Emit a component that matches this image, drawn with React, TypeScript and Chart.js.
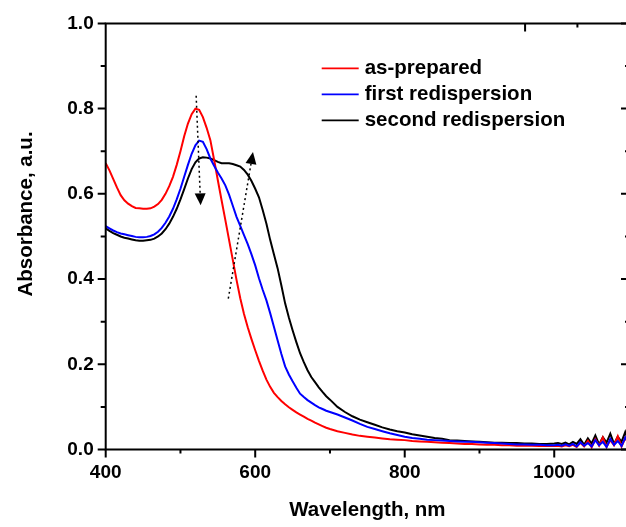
import React, { useEffect, useRef } from "react";
import { Chart, registerables } from "chart.js";

Chart.register(...registerables);

const wavelengths = [
  400, 405, 410, 415, 420, 425, 430, 435, 440, 445, 450, 455, 460, 465, 470, 475, 480, 485, 490, 495,
  500, 505, 510, 515, 520, 525, 530, 535, 540, 545, 550, 555, 560, 565, 570, 575, 580, 585, 590, 595,
  600, 605, 610, 615, 620, 625, 630, 635, 640, 645, 650, 655, 660, 665, 670, 675, 680, 685, 690, 695,
  700, 710, 720, 730, 740, 750, 760, 770, 780, 790, 800, 810, 820, 830, 840, 850, 860, 870, 880, 890,
  900, 910, 920, 930, 940, 950, 960, 970, 980, 990, 1000,
  1005, 1010, 1015, 1020, 1025, 1030, 1035, 1040, 1045, 1050, 1055, 1060, 1065, 1070, 1075, 1080, 1085, 1090, 1095, 1100,
];

const asPrepared = [
  0.672, 0.655, 0.635, 0.615, 0.597, 0.585, 0.577, 0.571, 0.567, 0.566, 0.565, 0.565, 0.566, 0.570, 0.576, 0.586, 0.600, 0.618, 0.640, 0.668,
  0.700, 0.735, 0.765, 0.787, 0.800, 0.797, 0.780, 0.755, 0.726, 0.680, 0.632, 0.585, 0.539, 0.492, 0.445, 0.398, 0.355, 0.318, 0.287, 0.259,
  0.233, 0.208, 0.185, 0.164, 0.147, 0.133, 0.123, 0.114, 0.106, 0.099, 0.093, 0.087, 0.082, 0.077, 0.072, 0.068, 0.063, 0.059, 0.055, 0.051,
  0.048, 0.043, 0.039, 0.035, 0.032, 0.030, 0.028, 0.026, 0.024, 0.023, 0.022, 0.020, 0.019, 0.018, 0.017, 0.016, 0.015, 0.014, 0.013, 0.013,
  0.012, 0.011, 0.011, 0.010, 0.010, 0.009, 0.009, 0.009, 0.008, 0.008, 0.008,
  0.009, 0.007, 0.010, 0.008, 0.011, 0.006, 0.016, 0.007, 0.020, 0.005, 0.024, 0.009, 0.028, 0.006, 0.022, 0.010, 0.031, 0.007, 0.027, 0.013,
];

const firstRedispersion = [
  0.524, 0.519, 0.514, 0.510, 0.507, 0.505, 0.503, 0.501, 0.499, 0.498, 0.498, 0.499, 0.501, 0.505, 0.511, 0.520, 0.532, 0.547, 0.565, 0.587,
  0.612, 0.640, 0.668, 0.694, 0.714, 0.725, 0.722, 0.705, 0.683, 0.666, 0.650, 0.636, 0.620, 0.598, 0.572, 0.546, 0.525, 0.503, 0.482, 0.458,
  0.432, 0.402, 0.375, 0.350, 0.320, 0.288, 0.256, 0.224, 0.195, 0.176, 0.160, 0.145, 0.131, 0.123, 0.116, 0.110, 0.104, 0.099, 0.095, 0.091,
  0.088, 0.082, 0.075, 0.068, 0.060, 0.053, 0.048, 0.043, 0.038, 0.034, 0.030, 0.027, 0.025, 0.023, 0.022, 0.021, 0.020, 0.019, 0.018, 0.018,
  0.017, 0.016, 0.015, 0.014, 0.013, 0.012, 0.012, 0.011, 0.011, 0.010, 0.010,
  0.011, 0.009, 0.012, 0.009, 0.013, 0.007, 0.017, 0.009, 0.015, 0.007, 0.022, 0.010, 0.018, 0.006, 0.025, 0.011, 0.020, 0.008, 0.028, 0.013,
];

const secondRedispersion = [
  0.519, 0.513, 0.508, 0.504, 0.500, 0.497, 0.495, 0.493, 0.491, 0.490, 0.490, 0.491, 0.492, 0.495, 0.500, 0.507, 0.517, 0.530, 0.546, 0.565,
  0.587, 0.611, 0.636, 0.658, 0.674, 0.683, 0.686, 0.685, 0.683, 0.679, 0.675, 0.672, 0.672, 0.672, 0.670, 0.667, 0.664, 0.656, 0.645, 0.630,
  0.612, 0.592, 0.562, 0.530, 0.492, 0.458, 0.425, 0.385, 0.343, 0.310, 0.280, 0.252, 0.226, 0.205, 0.186, 0.170, 0.158, 0.146, 0.135, 0.125,
  0.117, 0.100, 0.088, 0.078, 0.070, 0.064, 0.058, 0.052, 0.047, 0.043, 0.040, 0.036, 0.033, 0.030, 0.027, 0.025, 0.022, 0.021, 0.020, 0.019,
  0.018, 0.017, 0.016, 0.016, 0.015, 0.015, 0.014, 0.014, 0.013, 0.013, 0.014,
  0.015, 0.013, 0.016, 0.012, 0.018, 0.013, 0.024, 0.011, 0.026, 0.014, 0.033, 0.012, 0.029, 0.016, 0.037, 0.013, 0.030, 0.018, 0.041, 0.015,
];

const seriesLabels = ["as-prepared", "first redispersion", "second redispersion"];
const seriesColors = ["#ff0000", "#0000ff", "#000000"];

const xMajorTicks = [400, 600, 800, 1000];
const xMinorTicks = [500, 700, 900, 1100];
const yMajorTicks = [0, 0.2, 0.4, 0.6, 0.8, 1.0];
const yMinorTicks = [0.1, 0.3, 0.5, 0.7, 0.9];
const topMajorTicks = [961];
const topMinorTicks = [1031];

const xTitle = "Wavelength, nm";
const yTitle = "Absorbance, a.u.";

// dotted arrows: [startX, startY, tipX, tipY] in data units
const arrowDown = [521, 0.83, 527, 0.573];
const arrowUp = [564, 0.354, 597, 0.698];

const FONT = "'Liberation Sans', Arial, Helvetica, sans-serif";

const framePlugin = {
  id: "framePlugin",
  afterDatasetsDraw(chart: any) {
    const { ctx, scales } = chart;
    const x = scales.x;
    const y = scales.y;
    ctx.save();
    const drawArrow = (arr: number[]) => {
      const x0 = x.getPixelForValue(arr[0]);
      const y0 = y.getPixelForValue(arr[1]);
      const x1 = x.getPixelForValue(arr[2]);
      const y1 = y.getPixelForValue(arr[3]);
      const ang = Math.atan2(y1 - y0, x1 - x0);
      const headLen = 12;
      const headHalf = 5.5;
      const bx = x1 - Math.cos(ang) * headLen;
      const by = y1 - Math.sin(ang) * headLen;
      ctx.strokeStyle = "#000";
      ctx.lineWidth = 1.5;
      ctx.setLineDash([2, 3]);
      ctx.beginPath();
      ctx.moveTo(x0, y0);
      ctx.lineTo(bx, by);
      ctx.stroke();
      ctx.setLineDash([]);
      ctx.fillStyle = "#000";
      ctx.beginPath();
      ctx.moveTo(x1, y1);
      ctx.lineTo(bx + Math.sin(ang) * headHalf, by - Math.cos(ang) * headHalf);
      ctx.lineTo(bx - Math.sin(ang) * headHalf, by + Math.cos(ang) * headHalf);
      ctx.closePath();
      ctx.fill();
    };
    drawArrow(arrowDown);
    drawArrow(arrowUp);
    ctx.restore();
  },
  afterDraw(chart: any) {
    const { ctx, chartArea: a, scales } = chart;
    const x = scales.x;
    const y = scales.y;
    ctx.save();
    ctx.strokeStyle = "#000";
    ctx.lineWidth = 2;
    ctx.setLineDash([]);
    ctx.beginPath();
    ctx.rect(a.left, a.top, a.right - a.left, a.bottom - a.top);
    ctx.stroke();
    ctx.beginPath();
    for (const v of xMajorTicks) {
      const px = x.getPixelForValue(v);
      ctx.moveTo(px, a.bottom);
      ctx.lineTo(px, a.bottom + 8);
    }
    for (const v of xMinorTicks) {
      const px = x.getPixelForValue(v);
      ctx.moveTo(px, a.bottom);
      ctx.lineTo(px, a.bottom + 4);
    }
    for (const v of yMajorTicks) {
      const py = y.getPixelForValue(v);
      ctx.moveTo(a.left, py);
      ctx.lineTo(a.left - 8, py);
      ctx.moveTo(a.right, py);
      ctx.lineTo(a.right - 8, py);
    }
    for (const v of yMinorTicks) {
      const py = y.getPixelForValue(v);
      ctx.moveTo(a.left, py);
      ctx.lineTo(a.left - 5, py);
      ctx.moveTo(a.right, py);
      ctx.lineTo(a.right - 4, py);
    }
    for (const v of topMajorTicks) {
      const px = x.getPixelForValue(v);
      ctx.moveTo(px, a.top);
      ctx.lineTo(px, a.top + 8);
    }
    for (const v of topMinorTicks) {
      const px = x.getPixelForValue(v);
      ctx.moveTo(px, a.top);
      ctx.lineTo(px, a.top + 4);
    }
    ctx.stroke();

    // y-axis title
    ctx.save();
    ctx.translate(26, 214);
    ctx.rotate(-Math.PI / 2);
    ctx.font = `bold 20.5px ${FONT}`;
    ctx.fillStyle = "#000";
    ctx.textAlign = "center";
    ctx.textBaseline = "middle";
    ctx.fillText(yTitle, 0, 0);
    ctx.restore();

    // legend
    const lx = a.left + 216;
    const ly = a.top + 45;
    ctx.font = `bold 20.5px ${FONT}`;
    ctx.textBaseline = "middle";
    ctx.textAlign = "left";
    chart.data.datasets.forEach((ds: any, i: number) => {
      const yy = ly + i * 26;
      ctx.strokeStyle = ds.borderColor;
      ctx.lineWidth = 1.8;
      ctx.beginPath();
      ctx.moveTo(lx, yy);
      ctx.lineTo(lx + 37, yy);
      ctx.stroke();
      ctx.fillStyle = "#000";
      ctx.fillText(ds.label, lx + 43, yy);
    });
    ctx.restore();
  },
};

export default function App() {
  const canvasRef = useRef<HTMLCanvasElement | null>(null);

  useEffect(() => {
    if (!canvasRef.current) return;
    const seriesValues = [asPrepared, firstRedispersion, secondRedispersion];
    const drawOrder = [1, 0, 2];
    const chart = new Chart(canvasRef.current, {
      type: "line",
      data: {
        datasets: seriesValues.map((vals, i) => ({
          label: seriesLabels[i],
          data: wavelengths.map((w, j) => ({ x: w, y: vals[j] })),
          borderColor: seriesColors[i],
          backgroundColor: seriesColors[i],
          borderWidth: 2,
          pointRadius: 0,
          tension: 0,
          fill: false,
          order: drawOrder[i],
        })),
      },
      options: {
        animation: false,
        responsive: false,
        devicePixelRatio: 1,
        layout: { padding: { left: 10, top: 23, right: 11, bottom: 0 } },
        plugins: {
          legend: { display: false },
          tooltip: { enabled: false },
        },
        scales: {
          x: {
            type: "linear",
            min: 400,
            max: 1100,
            afterFit: (s: any) => {
              s.height = 77.5;
            },
            afterBuildTicks: (s: any) => {
              s.ticks = xMajorTicks.map((v) => ({ value: v }));
            },
            grid: { display: false, drawTicks: false },
            border: { display: false },
            ticks: {
              padding: 12,
              color: "#000",
              font: { family: FONT, size: 19, weight: "bold" },
              maxRotation: 0,
              callback: (v: any) => String(v),
            },
            title: {
              display: true,
              text: xTitle,
              color: "#000",
              font: { family: FONT, size: 20.5, weight: "bold" },
              padding: { top: 4, bottom: 4 },
            },
          },
          y: {
            type: "linear",
            min: 0,
            max: 1.0,
            afterFit: (s: any) => {
              s.width = 95.7;
            },
            afterBuildTicks: (s: any) => {
              s.ticks = yMajorTicks.map((v) => ({ value: v }));
            },
            grid: { display: false, drawTicks: false },
            border: { display: false },
            ticks: {
              padding: 12,
              color: "#000",
              font: { family: FONT, size: 19, weight: "bold" },
              callback: (v: any) => Number(v).toFixed(1),
            },
            title: { display: false },
          },
        },
      },
      plugins: [framePlugin],
    });
    return () => chart.destroy();
  }, []);

  return (
    <div
      style={{
        position: "fixed",
        left: 0,
        top: 0,
        width: 626,
        height: 527,
        overflow: "hidden",
        background: "#fff",
      }}
    >
      <canvas ref={canvasRef} width={640} height={527} style={{ width: 640, height: 527, display: "block" }} />
    </div>
  );
}
